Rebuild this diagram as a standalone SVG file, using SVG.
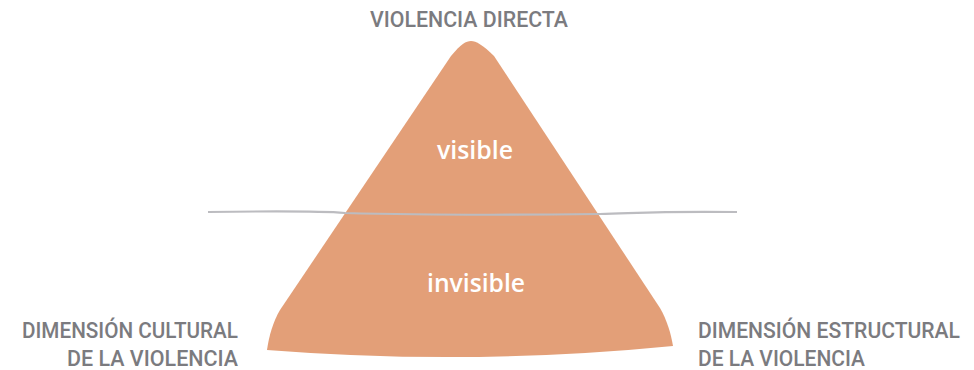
<svg xmlns="http://www.w3.org/2000/svg" width="974" height="370" viewBox="0 0 974 370">
<style>
.lbl{font-family:Roboto,"Liberation Sans",sans-serif;font-size:22px;font-weight:500;fill:#7b7b7f;}
.in{font-family:"Open Sans","Noto Sans",sans-serif;font-size:25px;font-weight:600;fill:#ffffff;text-anchor:middle;}
.water{fill:none;stroke:#bcbcc0;stroke-width:2.2;}
</style>
<rect width="974" height="370" fill="#ffffff"/>
<g id="iceberg">
<path d="M 267 350 C 269 336 273 322 280 310 L 451 56 C 461 44 466 41 471 41 C 476 41 483 45 494 56 L 660 308 C 667 320 671 334 673 346 Q 470 366 267 350 Z" fill="#e39f78"/>
<text class="in" x="475" y="159" textLength="76" lengthAdjust="spacingAndGlyphs">visible</text>
<text class="in" x="476" y="292" textLength="98" lengthAdjust="spacingAndGlyphs">invisible</text>
</g>
<g id="connectors">
<path class="water" d="M 208 212 C 280 211 320 211 345 213 C 420 215 520 215 600 214 C 640 213 660 211 737 212"/>
</g>
<g id="top-label">
<text class="lbl" x="370" y="27" textLength="198" lengthAdjust="spacingAndGlyphs">VIOLENCIA DIRECTA</text>
</g>
<g id="left-label">
<text class="lbl" x="22" y="338" textLength="216" lengthAdjust="spacingAndGlyphs">DIMENSIÓN CULTURAL</text>
<text class="lbl" x="67" y="366" textLength="171" lengthAdjust="spacingAndGlyphs">DE LA VIOLENCIA</text>
</g>
<g id="right-label">
<text class="lbl" x="698" y="338" textLength="262" lengthAdjust="spacingAndGlyphs">DIMENSIÓN ESTRUCTURAL</text>
<text class="lbl" x="698" y="366" textLength="167" lengthAdjust="spacingAndGlyphs">DE LA VIOLENCIA</text>
</g>
</svg>
